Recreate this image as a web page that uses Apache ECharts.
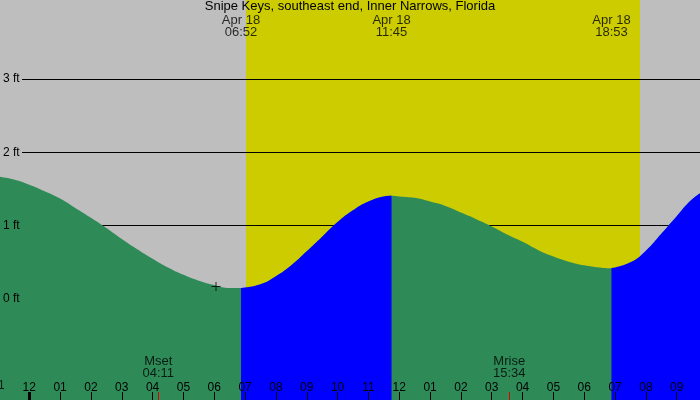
<!DOCTYPE html>
<html><head><meta charset="utf-8">
<script src="https://cdn.jsdelivr.net/npm/echarts@6/dist/echarts.min.js"></script>
<style>html,body{margin:0;padding:0;background:#bebebe}#c{width:700px;height:400px}</style>
</head><body><div id="c"></div><script>
// Hours are measured from midnight, Apr 18
const hourTicks = [-1,0,1,2,3,4,5,6,7,8,9,10,11,12,13,14,15,16,17,18,19,20,21];
const hourLabels = ['11','12','01','02','03','04','05','06','07','08','09','10','11','12','01','02','03','04','05','06','07','08','09'];
const heightTicks = [0,1,2,3];

// tide curve (hours, feet)
const fall1Hours = [-1,-0.5,0,0.5,1,1.5,2,2.5,3,3.5,4,4.5,5,5.5,6,6.5,6.867];
const fall1Feet  = [1.67,1.63,1.56,1.47,1.37,1.24,1.11,0.97,0.82,0.68,0.55,0.43,0.33,0.25,0.19,0.15,0.15];
const rise1Hours = [6.867,7.5,8,8.5,9,9.5,10,10.5,11,11.5,11.75];
const rise1Feet  = [0.15,0.20,0.31,0.46,0.65,0.85,1.05,1.21,1.33,1.40,1.41];
const fall2Hours = [11.75,12,12.5,13,13.5,14,14.5,15,15.5,16,16.5,17,17.5,18,18.5,18.883];
const fall2Feet  = [1.41,1.40,1.38,1.33,1.27,1.18,1.09,0.99,0.88,0.78,0.67,0.58,0.51,0.46,0.43,0.42];
const rise2Hours = [18.883,19.5,20,20.5,21,21.5,22];
const rise2Feet  = [0.42,0.50,0.66,0.89,1.13,1.36,1.51];

const extremeHours = [6.867, 11.75, 18.883];
const extremeDate = 'Apr 18';
const extremeTimes = ['06:52','11:45','18:53'];
const daylight = [7.03, 19.81];
const moonHours = [4.183, 15.567];
const moonNames = ['Mset','Mrise'];
const moonTimes = ['04:11','15:34'];
const nowMark = [6.056, 0.17];
const titleText = 'Snipe Keys, southeast end, Inner Narrows, Florida';

const X_MIN = -0.95, X_MAX = 21.755, Y_MIN = -1.378, Y_MAX = 4.08;
const FONT = 'Liberation Sans';
const pairs = (xs, ys) => xs.map((x, i) => [x, ys[i]]);

// whole curve (green base), the rising parts are drawn over it in blue
const allPts = [];
[[fall1Hours, fall1Feet], [rise1Hours, rise1Feet], [fall2Hours, fall2Feet], [rise2Hours, rise2Feet]].forEach(([xs, ys]) => {
  pairs(xs, ys).forEach(p => {
    if (!allPts.length || allPts[allPts.length - 1][0] < p[0]) allPts.push(p);
  });
});

function baseX(extra) {
  return Object.assign({
    type: 'value', min: X_MIN, max: X_MAX, position: 'bottom', offset: 0,
    axisLine: { show: false, onZero: false }, splitLine: { show: false },
    axisLabel: { show: false }, axisTick: { show: false }, z: 10
  }, extra);
}

function tideSeries(data, color, z) {
  return {
    type: 'line', data: data, smooth: 0.5,
    showSymbol: false, symbol: 'none', silent: true, z: z,
    lineStyle: { width: 0 },
    areaStyle: { color: color, opacity: 1, origin: 'start' }
  };
}

const chart = echarts.init(document.getElementById('c'), null, { renderer: 'canvas' });
chart.setOption({
  backgroundColor: '#bebebe',
  animation: false,
  textStyle: { fontFamily: FONT },
  title: {
    text: titleText, left: 'center', top: 0, padding: [0, 5],
    textStyle: { fontSize: 13, fontWeight: 'normal', color: '#000', fontFamily: FONT }
  },
  grid: { left: 0, right: 0, top: 0, bottom: 0, containLabel: false },
  xAxis: [
    baseX({
      axisTick: { show: true, inside: true, length: 8, customValues: hourTicks, lineStyle: { color: '#000', width: 1 } },
      axisLabel: {
        show: true, inside: true, margin: 6, customValues: hourTicks, fontSize: 12, color: '#000', fontFamily: FONT,
        formatter: v => hourLabels[hourTicks.indexOf(Math.round(v))]
      }
    }),
    baseX({ axisTick: { show: true, inside: true, length: 8, customValues: [0], lineStyle: { color: '#000', width: 3 } } }),
    baseX({ axisTick: { show: true, inside: true, length: 8, customValues: moonHours, lineStyle: { color: '#e00000', width: 1 } } })
  ],
  yAxis: {
    type: 'value', min: Y_MIN, max: Y_MAX, z: 10,
    axisLine: { show: false, onZero: false }, axisTick: { show: false }, splitLine: { show: false },
    axisLabel: { show: true, inside: true, margin: 3, customValues: heightTicks, fontSize: 12, color: '#000', fontFamily: FONT,
      formatter: v => v + ' ft' }
  },
  series: [
    { type: 'line', data: [], z: 1, silent: true,
      markArea: { silent: true, z: 1, itemStyle: { color: '#cccc00', opacity: 1 },
        data: [[{ coord: [daylight[0], Y_MIN] }, { coord: [daylight[1], Y_MAX] }]] } },
    { type: 'line', data: [], z: 2, silent: true,
      markLine: { silent: true, z: 2, symbol: ['none', 'none'], label: { show: false },
        lineStyle: { color: '#000', width: 1, type: 'solid' },
        data: heightTicks.map(h => [{ coord: [-0.237, h] }, { coord: [X_MAX, h] }]) } },
    tideSeries(allPts, '#2e8b57', 3),
    tideSeries(pairs(rise1Hours, rise1Feet), '#0000ff', 4),
    tideSeries(pairs(rise2Hours, rise2Feet), '#0000ff', 4),
    { type: 'scatter', z: 5, silent: true, symbolSize: 1, itemStyle: { color: 'transparent' },
      data: extremeHours.map((h, i) => ({ value: [h, 3.72], name: extremeTimes[i] })),
      label: { show: true, position: 'inside', fontSize: 13, lineHeight: 12, color: '#000', fontFamily: FONT, align: 'center',
        formatter: p => extremeDate + '\n' + p.name } },
    { type: 'scatter', z: 5, silent: true, symbolSize: 1, itemStyle: { color: 'transparent' },
      data: moonHours.map((h, i) => ({ value: [h, -0.935], name: moonNames[i] + '\n' + moonTimes[i] })),
      label: { show: true, position: 'inside', fontSize: 13, lineHeight: 12, color: '#000', fontFamily: FONT, align: 'center',
        formatter: p => p.name } },
    // hour label that sits partly off the left edge
    { type: 'scatter', z: 11, silent: true, clip: false, symbolSize: 1, itemStyle: { color: 'transparent' },
      data: [{ value: [hourTicks[0], -1.187], name: hourLabels[0] }],
      label: { show: true, position: 'inside', fontSize: 12, color: '#000', fontFamily: FONT, align: 'center',
        formatter: p => p.name } },
    { type: 'scatter', z: 6, silent: true, symbol: 'path://M4,0h1v9h-1z M0,4h9v1h-9z', symbolSize: 9,
      itemStyle: { color: '#000' }, data: [nowMark] }
  ]
});
</script></body></html>
